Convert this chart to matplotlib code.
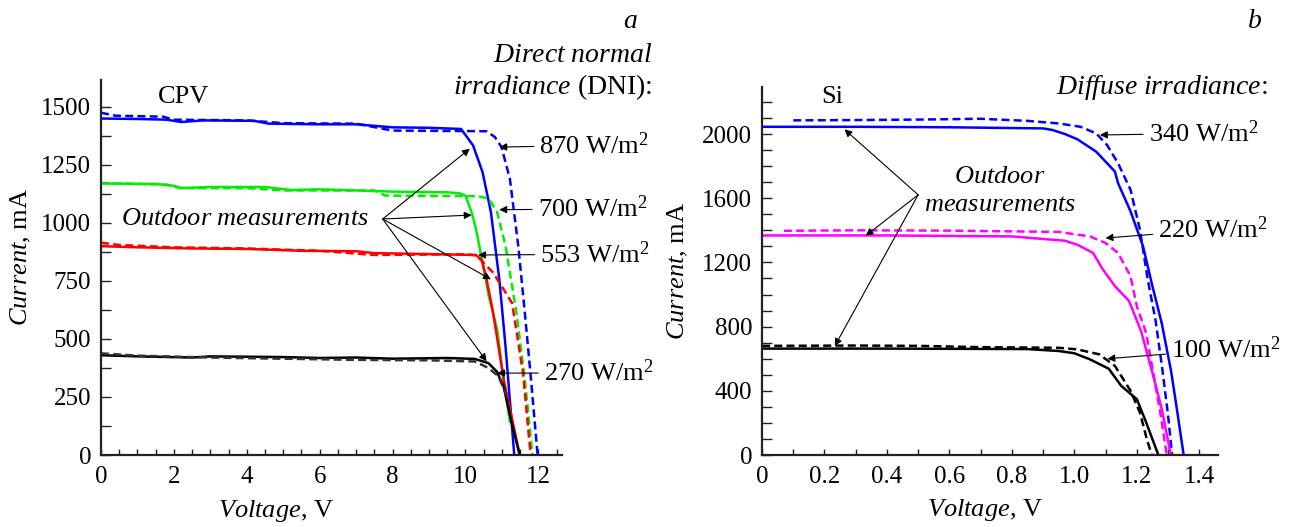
import matplotlib
matplotlib.use('Agg')
import matplotlib.pyplot as plt
from matplotlib.ticker import MultipleLocator, FuncFormatter

plt.rcParams['font.family'] = ['Liberation Serif', 'DejaVu Serif']
plt.rcParams['mathtext.fontset'] = 'custom'
plt.rcParams['mathtext.rm'] = 'Liberation Serif'
plt.rcParams['mathtext.it'] = 'Liberation Serif:italic'

# ---- panel a: CPV, (voltage V, current mA) ----
cpv870_v = [0, 1.0, 1.8, 2.2, 2.8, 4.2, 4.6, 6, 7, 8, 9.0, 9.88, 10.21, 10.47, 10.70, 10.93, 11.10, 11.34]
cpv870_i = [1450, 1448, 1445, 1435, 1442, 1440, 1428, 1425, 1425, 1412, 1410, 1405, 1334, 1219, 1046, 757, 469, 0]
cpv870m_v = [0, 0.4, 1.7, 2.0, 4.0, 5.0, 7.0, 7.6, 8.0, 10.0, 10.58, 10.81, 10.99, 11.22, 11.45, 11.63, 11.80, 11.98]
cpv870m_i = [1475, 1462, 1458, 1445, 1442, 1430, 1428, 1410, 1398, 1396, 1395, 1370, 1327, 1190, 901, 613, 325, 0]

cpv700_v = [0, 1.5, 2.0, 2.2, 3, 4.5, 5.2, 6.0, 7.0, 8.0, 9.5, 9.83, 10.0, 10.17, 10.29, 10.47, 10.64, 10.87, 11.05, 11.22]
cpv700_i = [1170, 1168, 1160, 1150, 1155, 1155, 1142, 1145, 1140, 1135, 1132, 1128, 1118, 1046, 974, 829, 685, 541, 325, 144]
cpv700m_v = [0, 1.8, 2.2, 4, 5, 7.5, 7.8, 10.35, 10.64, 10.87, 11.1, 11.4, 11.63, 11.84]
cpv700m_i = [1172, 1165, 1150, 1150, 1140, 1140, 1118, 1115, 1105, 1046, 901, 613, 325, 0]

cpv553_v = [0, 1, 2.5, 4, 5.5, 7, 7.5, 10.29, 10.45, 10.58, 10.76, 11.05, 11.49]
cpv553_i = [900, 895, 890, 888, 880, 878, 870, 862, 840, 757, 613, 325, 0]
cpv553m_v = [0, 0.5, 2, 4, 6, 7.5, 10.0, 10.3, 10.76, 10.99, 11.28, 11.58, 11.79]
cpv553m_i = [915, 905, 895, 890, 880, 862, 865, 860, 786, 728, 655, 353, 0]

cpv270_v = [0, 1, 2.5, 3, 5, 6, 7, 8, 9.5, 10.26, 10.63, 10.86, 11.05, 11.25, 11.49]
cpv270_i = [430, 425, 420, 425, 422, 418, 420, 415, 418, 414, 396, 360, 294, 150, 0]
cpv270m_v = [0, 1, 3, 5, 7, 9, 10.26, 10.63, 10.91, 11.09, 11.14]
cpv270m_i = [438, 428, 420, 415, 410, 408, 403, 375, 339, 270, 251]

# ---- panel b: Si ----
si340_v = [0, 0.3, 0.6, 0.9, 0.93, 0.97, 1.01, 1.07, 1.13, 1.14, 1.18, 1.22, 1.25, 1.28, 1.31, 1.33, 1.35]
si340_i = [2045, 2045, 2042, 2035, 2025, 2000, 1967, 1890, 1766, 1694, 1518, 1300, 1052, 820, 520, 265, 0]
si340m_v = [0.1, 0.3, 0.5, 0.7, 0.85, 0.95, 1.02, 1.07, 1.105, 1.14, 1.18, 1.21, 1.235, 1.26, 1.28, 1.30, 1.313]
si340m_i = [2085, 2087, 2090, 2095, 2082, 2066, 2045, 2004, 1931, 1818, 1652, 1404, 1093, 840, 560, 250, 0]

si220_v = [0, 0.4, 0.8, 0.97, 1.01, 1.06, 1.09, 1.13, 1.175, 1.214, 1.25, 1.28, 1.309]
si220_i = [1368, 1368, 1362, 1335, 1310, 1259, 1160, 1052, 960, 770, 513, 286, 0]
si220m_v = [0.07, 0.3, 0.6, 0.95, 1.05, 1.1, 1.14, 1.18, 1.2, 1.23, 1.25, 1.275, 1.296]
si220m_i = [1397, 1400, 1398, 1390, 1362, 1321, 1259, 1114, 928, 760, 540, 265, 0]

si100_v = [0, 0.4, 0.85, 0.95, 1.0, 1.05, 1.11, 1.15, 1.2, 1.23, 1.269]
si100_i = [663, 663, 660, 648, 634, 596, 538, 431, 348, 203, 0]
si100m_v = [0, 0.3, 0.5, 0.7, 0.95, 1.01, 1.08, 1.13, 1.18, 1.21, 1.232, 1.248]
si100m_i = [680, 682, 680, 672, 668, 658, 627, 555, 400, 265, 99, 0]

LW = 1.8
DASH = (0, (3.2, 1.7))
FS = 19

fig = plt.figure(figsize=(12.92, 5.27), dpi=100)
ax1 = fig.add_axes([101 / 1292, 72 / 527, 461 / 1292, 375 / 527])
ax2 = fig.add_axes([762 / 1292, 72 / 527, 456 / 1292, 368 / 527])

ax1.plot(cpv870_v, cpv870_i, color='#0000ff', lw=LW)
ax1.plot(cpv870m_v, cpv870m_i, color='#0000ff', lw=LW, ls=DASH)
ax1.plot(cpv700_v, cpv700_i, color='#00ee00', lw=LW)
ax1.plot(cpv700m_v, cpv700m_i, color='#00ee00', lw=LW, ls=DASH)
ax1.plot(cpv553_v, cpv553_i, color='#ff0000', lw=LW)
ax1.plot(cpv553m_v, cpv553m_i, color='#ff0000', lw=LW, ls=DASH)
ax1.plot(cpv270_v, cpv270_i, color='black', lw=LW)
ax1.plot(cpv270m_v, cpv270m_i, color='#333333', lw=LW, ls=DASH)

ax2.plot(si340_v, si340_i, color='#0000ff', lw=LW)
ax2.plot(si340m_v, si340m_i, color='#0000ff', lw=LW, ls=DASH)
ax2.plot(si220_v, si220_i, color='#ff00ff', lw=LW)
ax2.plot(si220m_v, si220m_i, color='#ff00ff', lw=LW, ls=DASH)
ax2.plot(si100_v, si100_i, color='black', lw=LW)
ax2.plot(si100m_v, si100m_i, color='black', lw=LW, ls=DASH)

for ax in (ax1, ax2):
    for s in ('top', 'right'):
        ax.spines[s].set_visible(False)
    for s in ('left', 'bottom'):
        ax.spines[s].set_linewidth(1.6)
        ax.spines[s].set_color('#222222')
    ax.tick_params(which='both', direction='in', labelsize=18, color='#222222', width=1.0)
    ax.tick_params(axis='y', which='both', length=7, pad=7)
    ax.tick_params(axis='x', which='both', length=4.5, pad=8)

ax1.set_xlim(0, 12.65)
ax1.set_ylim(0, 1616)
ax1.xaxis.set_major_locator(MultipleLocator(2))
ax1.xaxis.set_minor_locator(MultipleLocator(0.5))
ax1.yaxis.set_major_locator(MultipleLocator(250))
ax1.yaxis.set_minor_locator(MultipleLocator(125))

ax2.set_xlim(0, 1.46)
ax2.set_ylim(0, 2293)
ax2.xaxis.set_major_locator(MultipleLocator(0.2))
ax2.xaxis.set_minor_locator(MultipleLocator(0.1))
ax2.xaxis.set_major_formatter(FuncFormatter(lambda v, p: '0' if abs(v) < 1e-9 else f'{v:.1f}'))
ax2.yaxis.set_major_locator(MultipleLocator(400))
ax2.yaxis.set_minor_locator(MultipleLocator(100))

for ax, xl in ((ax1, 0.38), (ax2, 0.49)):
    ax.set_xlabel(r'$\mathit{Voltage}$, V', fontsize=FS)
    ax.set_ylabel(r'$\mathit{Current}$, mA', fontsize=FS)
    ax.xaxis.set_label_coords(xl, -0.115)
ax1.yaxis.set_label_coords(-0.147, 0.528)
ax2.yaxis.set_label_coords(-0.158, 0.50)

arr = dict(arrowstyle='-|>', lw=0.8, color='black', mutation_scale=11, shrinkA=2, shrinkB=0)

# panel a texts
ax1.text(1.57, 1543, 'CPV', fontsize=FS, ha='left', va='center')
fig.text(630 / 1292, 1 - 22 / 527, r'$\mathit{a}$', fontsize=20, ha='center', va='center')
fig.text(652 / 1292, 1 - 55 / 527, r'$\mathit{Direct\ normal}$', fontsize=20, ha='right', va='center')
fig.text(652 / 1292, 1 - 87 / 527, r'$\mathit{irradiance}$ (DNI):', fontsize=20, ha='right', va='center')

labels_a = ['870 W/m$^2$', '700 W/m$^2$', '553 W/m$^2$', '270 W/m$^2$']
text_a = [(12.03, 1334), (11.98, 1060), (12.05, 865), (12.15, 353)]
tip_a = [(10.93, 1327), (10.93, 1057), (10.35, 862), (10.87, 353)]
for lab, t, p in zip(labels_a, text_a, tip_a):
    ax1.annotate(lab, xy=p, xytext=t, fontsize=FS, ha='left', va='center',
                 arrowprops=arr, annotation_clip=False)

ax1.text(3.95, 1017, r'$\mathit{Outdoor\ measurements}$', fontsize=FS, ha='center', va='center')
for p in [(10.12, 1320), (10.17, 1034), (10.70, 757), (10.58, 404)]:
    ax1.annotate('', xy=p, xytext=(7.73, 1017), arrowprops=dict(arr, shrinkA=0))

# panel b texts
ax2.text(0.19, 2232, 'Si', fontsize=FS, ha='left', va='center')
fig.text(1255 / 1292, 1 - 22 / 527, r'$\mathit{b}$', fontsize=20, ha='center', va='center')
fig.text(1268 / 1292, 1 - 87 / 527, r'$\mathit{Diffuse\ irradiance}$:', fontsize=20, ha='right', va='center')

labels_b = ['340 W/m$^2$', '220 W/m$^2$', '100 W/m$^2$']
text_b = [(1.238, 2004), (1.268, 1404), (1.31, 658)]
tip_b = [(1.082, 1994), (1.10, 1352), (1.106, 600)]
for lab, t, p in zip(labels_b, text_b, tip_b):
    ax2.annotate(lab, xy=p, xytext=t, fontsize=FS, ha='left', va='center',
                 arrowprops=arr, annotation_clip=False)

ax2.text(0.762, 1730, r'$\mathit{Outdoor}$', fontsize=FS, ha='center', va='center')
ax2.text(0.762, 1555, r'$\mathit{measurements}$', fontsize=FS, ha='center', va='center')
for p in [(0.264, 2029), (0.332, 1366), (0.233, 679)]:
    ax2.annotate('', xy=p, xytext=(0.5, 1621), arrowprops=dict(arr, shrinkA=0))

fig.savefig('out.png', dpi=100)
